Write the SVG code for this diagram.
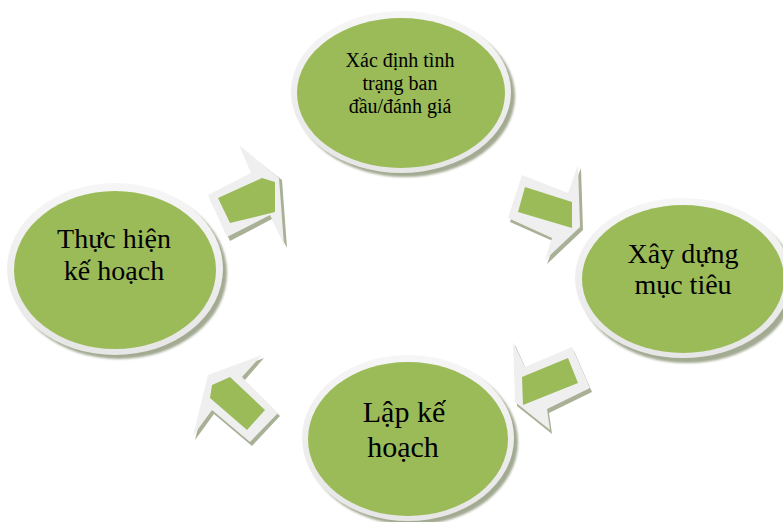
<svg xmlns="http://www.w3.org/2000/svg" width="783" height="522" viewBox="0 0 783 522">
  <defs>
    <linearGradient id="rim" x1="0" y1="0" x2="0" y2="1">
      <stop offset="0" stop-color="#f6f6f6"/>
      <stop offset="1" stop-color="#e6e6e6"/>
    </linearGradient>
    <filter id="soft" x="-10%" y="-10%" width="120%" height="120%">
      <feGaussianBlur stdDeviation="1"/>
    </filter>
  </defs>
  <style>
    .shadow { fill: #a3aa92; filter: url(#soft); }
    .rim { fill: url(#rim); }
    .disc { fill: #9bbb59; }
    .ashadow { fill: #a8b096; }
    .aface { fill: #efefef; }
    .label { font-family: "Liberation Serif", "Times New Roman", serif; fill: #000; text-anchor: middle; }
  </style>
  <rect width="783" height="522" fill="#ffffff"/>

  <!-- cycle arrows -->
  <g id="connectors">
    <g id="arrow-left-to-top">
      <polygon class="ashadow" points="241,148 282,180 287,248 272,219 230,241 210,199 254,176"/>
      <polygon class="aface" points="239,145 279,178 284,245 270,215 227,237 208,195 251,173"/>
      <polygon class="disc" points="218,198 262,178 275,182 275,212 230,223"/>
    </g>
    <g id="arrow-top-to-right">
      <polygon class="ashadow" points="524,178 570,196 581,168 583,230 547,264 555,242 510,222"/>
      <polygon class="aface" points="522,175 568,193 578,165 580,227 545,260 552,238 508,218"/>
      <polygon class="disc" points="525,187 572,202 572,228 518,212"/>
    </g>
    <g id="arrow-right-to-bottom">
      <polygon class="ashadow" points="515,345 527,371 574,351 592,392 549,413 552,434 517,406"/>
      <polygon class="aface" points="513,342 525,367 572,347 590,388 547,409 550,430 515,402"/>
      <polygon class="disc" points="522,377 568,358 578,383 523,405"/>
    </g>
    <g id="arrow-bottom-to-left">
      <polygon class="ashadow" points="264,358 210,378 195,440 214,414 252,446 280,416 244,381"/>
      <polygon class="aface" points="262,355 208,375 193,436 212,410 250,442 278,413 242,377"/>
      <polygon class="disc" points="212,385 230,377 265,410 247,430 210,398"/>
    </g>
  </g>

  <!-- assess the initial situation -->
  <g id="node-assess">
    <ellipse class="shadow" cx="405" cy="96" rx="110" ry="81"/>
    <ellipse class="rim" cx="401" cy="92" rx="110" ry="81"/>
    <ellipse class="disc" cx="401" cy="93" rx="104" ry="75"/>
    <text class="label" x="400" y="67" font-size="20">Xác định tình</text>
    <text class="label" x="400" y="90" font-size="20">trạng ban</text>
    <text class="label" x="400" y="113" font-size="20">đầu/đánh giá</text>
  </g>

  <!-- set goals -->
  <g id="node-goals">
    <ellipse class="shadow" cx="687" cy="283" rx="108" ry="80"/>
    <ellipse class="rim" cx="683" cy="278" rx="108" ry="80"/>
    <ellipse class="disc" cx="683" cy="279" rx="101" ry="74"/>
    <text class="label" x="683" y="263" font-size="28">Xây dựng</text>
    <text class="label" x="683" y="294" font-size="28">mục tiêu</text>
  </g>

  <!-- make the plan -->
  <g id="node-plan">
    <ellipse class="shadow" cx="412" cy="442" rx="106" ry="83"/>
    <ellipse class="rim" cx="408" cy="438" rx="106" ry="83"/>
    <ellipse class="disc" cx="408" cy="439" rx="100" ry="77"/>
    <text class="label" x="404" y="422" font-size="30">Lập kế</text>
    <text class="label" x="403" y="457" font-size="30">hoạch</text>
  </g>

  <!-- carry out the plan -->
  <g id="node-execute">
    <ellipse class="shadow" cx="119" cy="273" rx="108" ry="86"/>
    <ellipse class="rim" cx="115" cy="269" rx="108" ry="86"/>
    <ellipse class="disc" cx="115" cy="270" rx="101" ry="79"/>
    <text class="label" x="114" y="248" font-size="28">Thực hiện</text>
    <text class="label" x="114" y="280" font-size="28">kế hoạch</text>
  </g>
</svg>
